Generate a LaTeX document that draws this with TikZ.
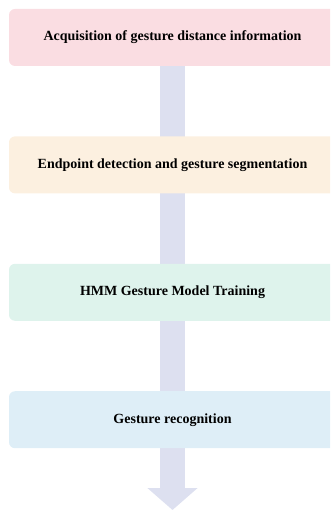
\documentclass[tikz,border=0pt]{standalone}
\usepackage{fontspec}
\setmainfont{Liberation Serif}
\usetikzlibrary{positioning,arrows.meta,backgrounds}
\definecolor{pinkbox}{RGB}{250,221,226}
\definecolor{peachbox}{RGB}{252,240,224}
\definecolor{mintbox}{RGB}{222,243,236}
\definecolor{bluebox}{RGB}{222,238,247}
\definecolor{flowarrow}{RGB}{221,224,240}
\tikzset{
    stagebox/.style={rounded corners=6pt, minimum width=327pt, minimum height=57pt,
        inner sep=0pt, font=\fontsize{14}{16}\selectfont\bfseries},
    flow/.style={draw=flowarrow, line width=25pt, -{Triangle[width=49pt,length=22pt]}}
}
\begin{document}
\begin{tikzpicture}[x=1pt,y=1pt,node distance=70pt]
    \useasboundingbox (0,0) rectangle (330,-510);
    \clip (0,0) rectangle (330,-510);
    \node[stagebox, fill=pinkbox] (acq) at (172.5,-37.5) {Acquisition of gesture distance information};
    \node[stagebox, fill=peachbox, below=of acq] (seg) {Endpoint detection and gesture segmentation};
    \node[stagebox, fill=mintbox, below=of seg] (hmm) {HMM Gesture Model Training};
    \node[stagebox, fill=bluebox, below=of hmm] (rec) {Gesture recognition};
    \coordinate (tip) at (172.5,-510);
    \begin{scope}[on background layer]
        \draw[flow] (acq.south) -- (tip);
    \end{scope}
\end{tikzpicture}
\end{document}
